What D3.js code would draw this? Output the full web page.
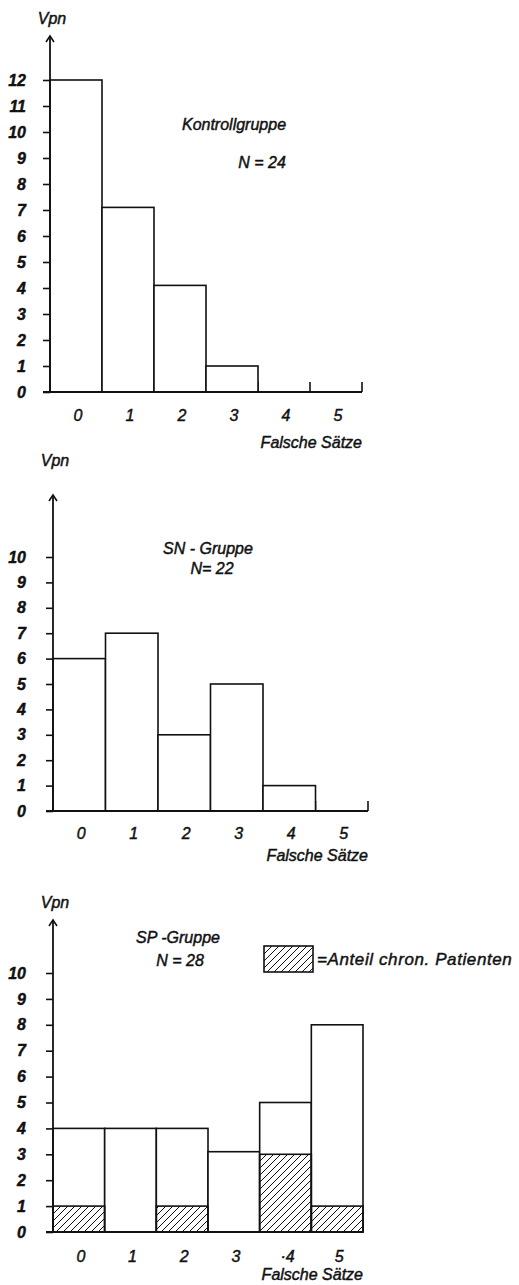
<!DOCTYPE html>
<html>
<head>
<meta charset="utf-8">
<script src="https://cdn.jsdelivr.net/npm/d3@7"></script>
<style>
  body { margin: 0; background: #fff; }
  text { font-family: "Liberation Sans", Arial, sans-serif; font-style: italic; fill: #111; stroke: #111; stroke-width: 0.45px; }
</style>
</head>
<body>
<div id="chart"></div>
<script>
// data
var categories = [0, 1, 2, 3, 4, 5];
var xTickLabels = ["0", "1", "2", "3", "4", "5"];
var xTickLabelsSP = ["0", "1", "2", "3", "\u00b74", "5"];

var kontrollValues = [12, 7.1, 4.1, 1, 0, 0];
var snValues = [6, 7, 3, 5, 1, 0];
var spValues = [4, 4, 4, 3.1, 5, 8];
var spChronic = [1, 0, 1, 0, 3, 1];

var yTicksK = [0, 1, 2, 3, 4, 5, 6, 7, 8, 9, 10, 11, 12];
var yTicksSN = [0, 1, 2, 3, 4, 5, 6, 7, 8, 9, 10];
var yTicksSP = [0, 1, 2, 3, 4, 5, 6, 7, 8, 9, 10];

var panels = [
  { values: kontrollValues, chronic: null, ticks: yTicksK, labels: xTickLabels,
    x0: 50, x1: 362, base: 392, unit: 26, tip: 36, vpnY: 24, pad: 17, lblDy: 29, fsDy: 56,
    title: [{ t: "Kontrollgruppe", x: 234, y: 130 }, { t: "N = 24", x: 262, y: 168 }] },
  { values: snValues, chronic: null, ticks: yTicksSN, labels: xTickLabels,
    x0: 53, x1: 368, base: 811, unit: 25.4, tip: 495, vpnY: 466, pad: 20, lblDy: 28, fsDy: 50,
    title: [{ t: "SN - Gruppe", x: 208, y: 554 }, { t: "N= 22", x: 212, y: 574 }] },
  { values: spValues, chronic: spChronic, ticks: yTicksSP, labels: xTickLabelsSP,
    x0: 53, x1: 363, base: 1232, unit: 25.9, tip: 920, vpnY: 908, pad: 20, lblDy: 30, fsDy: 48,
    title: [{ t: "SP -Gruppe", x: 178, y: 943 }, { t: "N = 28", x: 180, y: 966 }] }
];

var svg = d3.select("#chart").append("svg")
  .attr("width", 519)
  .attr("height", 1285);

var defs = svg.append("defs");
defs.append("pattern")
  .attr("id", "hatch")
  .attr("patternUnits", "userSpaceOnUse")
  .attr("width", 7)
  .attr("height", 7)
  .append("path")
  .attr("d", "M-1,1 l2,-2 M0,7 l7,-7 M6,8 l2,-2")
  .attr("stroke", "#111")
  .attr("stroke-width", 1);

panels.forEach(function (p) {
  var g = svg.append("g");
  var maxV = d3.max(p.ticks);

  var x = d3.scaleLinear().domain([-0.5, 5.5]).range([p.x0, p.x1]);
  var y = d3.scaleLinear().domain([0, maxV]).range([p.base, p.base - p.unit * maxV]);

  // small upward marks at the bin edges
  var edges = d3.range(-0.5, 6, 1);
  g.selectAll(".edge").data(edges).enter().append("line")
    .attr("x1", function (d) { return x(d); })
    .attr("x2", function (d) { return x(d); })
    .attr("y1", p.base)
    .attr("y2", p.base - 10)
    .attr("stroke", "#111")
    .attr("stroke-width", 1.6);

  // bars
  var barData = p.values.map(function (v, i) { return { c: categories[i], v: v }; })
    .filter(function (d) { return d.v > 0; });
  g.selectAll(".bar").data(barData).enter().append("rect")
    .attr("x", function (d) { return x(d.c - 0.5); })
    .attr("width", x(1) - x(0))
    .attr("y", function (d) { return y(d.v); })
    .attr("height", function (d) { return p.base - y(d.v); })
    .attr("fill", "#fff")
    .attr("stroke", "#111")
    .attr("stroke-width", 1.6);

  if (p.chronic) {
    var chronData = p.chronic.map(function (v, i) { return { c: categories[i], v: v }; })
      .filter(function (d) { return d.v > 0; });
    g.selectAll(".chron").data(chronData).enter().append("rect")
      .attr("x", function (d) { return x(d.c - 0.5); })
      .attr("width", x(1) - x(0))
      .attr("y", function (d) { return y(d.v); })
      .attr("height", function (d) { return p.base - y(d.v); })
      .attr("fill", "url(#hatch)")
      .attr("stroke", "#111")
      .attr("stroke-width", 1.6);
  }

  // x baseline
  g.append("line")
    .attr("x1", p.x0 - 7).attr("x2", p.x1)
    .attr("y1", p.base).attr("y2", p.base)
    .attr("stroke", "#111").attr("stroke-width", 1.8);

  // y axis with arrow
  var yAxis = d3.axisLeft(y).tickValues(p.ticks).tickSize(7).tickSizeOuter(0).tickPadding(p.pad);
  var ya = g.append("g").attr("transform", "translate(" + p.x0 + ",0)").call(yAxis);
  ya.select(".domain").remove();
  ya.selectAll(".tick line").attr("stroke", "#111").attr("stroke-width", 1.6);
  ya.selectAll(".tick text")
    .style("font-family", "'Liberation Sans', Arial, sans-serif")
    .style("font-style", "italic")
    .style("font-weight", "bold")
    .style("font-size", "16px")
    .attr("fill", "#111");

  g.append("line")
    .attr("x1", p.x0).attr("x2", p.x0)
    .attr("y1", p.base).attr("y2", p.tip)
    .attr("stroke", "#111").attr("stroke-width", 1.8);
  g.append("path")
    .attr("d", "M" + (p.x0 - 4) + "," + (p.tip + 6) + " L" + p.x0 + "," + p.tip + " L" + (p.x0 + 4) + "," + (p.tip + 6))
    .attr("fill", "none").attr("stroke", "#111").attr("stroke-width", 1.6);

  g.append("text")
    .attr("x", p.x0 + 2).attr("y", p.vpnY)
    .attr("text-anchor", "middle")
    .style("font-size", "16px")
    .text("Vpn");

  // x tick labels
  g.selectAll(".xl").data(p.labels).enter().append("text")
    .attr("x", function (d, i) { return x(categories[i]) + 2; })
    .attr("y", p.base + p.lblDy)
    .attr("text-anchor", "middle")
    .style("font-size", "16px")
    .text(function (d) { return d; });

  g.append("text")
    .attr("x", p.x1).attr("y", p.base + p.fsDy)
    .attr("text-anchor", "end")
    .style("font-size", "16px")
    .text("Falsche S\u00e4tze");

  g.selectAll(".title").data(p.title).enter().append("text")
    .attr("x", function (d) { return d.x; })
    .attr("y", function (d) { return d.y; })
    .attr("text-anchor", "middle")
    .style("font-size", "16px")
    .text(function (d) { return d.t; });
});

// legend for the chronic share
svg.append("rect")
  .attr("x", 264).attr("y", 946)
  .attr("width", 49).attr("height", 26)
  .attr("fill", "url(#hatch)")
  .attr("stroke", "#111").attr("stroke-width", 1.6);
svg.append("text")
  .attr("x", 317).attr("y", 965)
  .style("font-size", "17px")
  .style("letter-spacing", "0.6px")
  .text("=Anteil chron. Patienten");
</script>
</body>
</html>
